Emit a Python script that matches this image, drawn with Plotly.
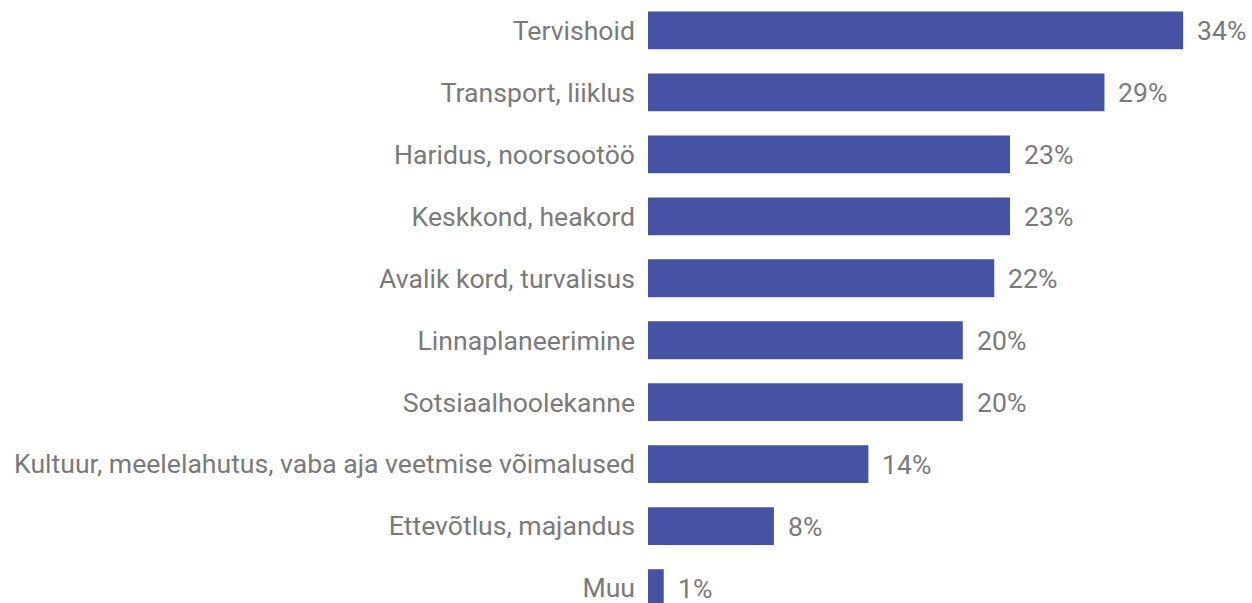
import plotly.graph_objects as go

categories = [
    "Tervishoid",
    "Transport, liiklus",
    "Haridus, noorsootöö",
    "Keskkond, heakord",
    "Avalik kord, turvalisus",
    "Linnaplaneerimine",
    "Sotsiaalhoolekanne",
    "Kultuur, meelelahutus, vaba aja veetmise võimalused",
    "Ettevõtlus, majandus",
    "Muu",
]
values = [34, 29, 23, 23, 22, 20, 20, 14, 8, 1]

BAR_COLOR = "#4653A5"
TEXT_COLOR = "#7A7A7A"
FONT = "Roboto, Arial, sans-serif"
FSIZE = 26.6

fig = go.Figure(
    go.Bar(
        x=values,
        y=categories,
        orientation="h",
        width=0.61,
        marker=dict(color=BAR_COLOR, line=dict(width=0)),
        hoverinfo="skip",
    )
)

for c, v in zip(categories, values):
    fig.add_annotation(
        x=v, y=c, text=f"{v}%", showarrow=False,
        xanchor="left", xshift=12, yanchor="middle",
        font=dict(family=FONT, size=FSIZE, color=TEXT_COLOR),
    )

fig.update_layout(
    width=1252, height=603,
    margin=dict(l=648, r=0, t=0, b=0),
    paper_bgcolor="white", plot_bgcolor="white",
    showlegend=False,
    font=dict(family=FONT, size=FSIZE, color=TEXT_COLOR),
    xaxis=dict(range=[0, 604 / 15.74], visible=False, fixedrange=True),
    yaxis=dict(
        categoryorder="array", categoryarray=categories,
        range=[9.24, -0.49],
        showgrid=False, zeroline=False, showline=False,
        ticks="", ticklabelstandoff=12, fixedrange=True,
        tickfont=dict(family=FONT, size=FSIZE, color=TEXT_COLOR),
    ),
)

fig.write_html(
    "out.html",
    config={"displayModeBar": False},
    post_script="document.body.style.margin='0';",
)
